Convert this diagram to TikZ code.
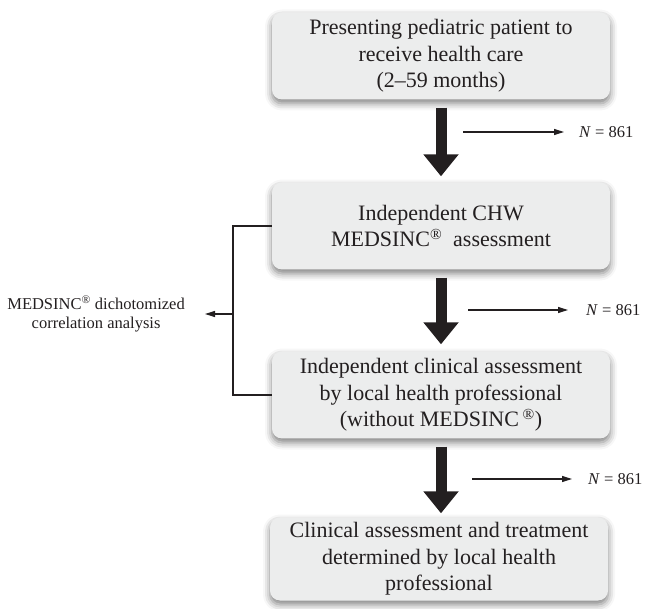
\documentclass[tikz,border=0pt]{standalone}
\usepackage{fontspec}
\setmainfont{Liberation Serif}
\usetikzlibrary{arrows.meta,shadows.blur}
\definecolor{boxgray}{RGB}{236,237,237}
\definecolor{ink}{RGB}{35,31,32}
\begin{document}
\begin{tikzpicture}[x=1pt,y=-1pt]
 \tikzset{stepbox/.style={fill=boxgray, rounded corners=10pt, minimum width=338pt, minimum height=87pt, align=center, text=ink, font=\fontsize{22}{26.5}\selectfont, blur shadow={shadow xshift=0pt, shadow yshift=-4pt, shadow blur radius=7pt, shadow opacity=50}}}
 \tikzset{bigarrow/.style={draw=ink, line width=11pt, -{Triangle[width=34pt,length=22pt]}}}
 \tikzset{directed/.style={draw=ink, line width=1.2pt, -{Triangle[width=6pt,length=10pt]}}}
 \tikzset{countlabel/.style={anchor=west, inner sep=0pt, text=ink, font=\fontsize{16.5}{19}\selectfont}}
  \useasboundingbox (0,0) rectangle (651,609);
  \node[stepbox] (B1) at (441,56) {Presenting pediatric patient to\\receive health care\\(2--59 months)};
  \node[stepbox] (B2) at (441,226) {Independent CHW\\MEDSINC\textsuperscript{\textregistered}\ \ assessment};
  \node[stepbox] (B3) at (441,395) {Independent clinical assessment\\by local health professional\\(without MEDSINC\,\textsuperscript{\textregistered})};
  \node[stepbox, minimum height=83pt] (B4) at (439,559) {Clinical assessment and treatment\\determined by local health\\professional};
  \node[countlabel] (C1) at (579,132) {\textit{N} = 861};
  \node[countlabel] (C2) at (586,310) {\textit{N} = 861};
  \node[countlabel] (C3) at (588,479) {\textit{N} = 861};
  \coordinate (P1) at (463,132);
  \coordinate (P2) at (468,310);
  \coordinate (P3) at (472,479);
  \coordinate (K) at (233,314);
  \node[align=center, inner sep=0pt, text=ink, font=\fontsize{16.5}{19.5}\selectfont, anchor=east] (A1) at (185,314) {MEDSINC\textsuperscript{\textregistered} dichotomized\\correlation analysis};
  \draw[bigarrow, shorten <=8pt, shorten >=6pt] (B1.south) -- (B1.south |- B2.north);
  \draw[bigarrow, shorten <=8pt, shorten >=7pt] (B2.south) -- (B2.south |- B3.north);
  \draw[bigarrow, shorten <=8pt, shorten >=4pt] (B3.south) -- (B3.south |- B4.north);
  \draw[directed, shorten >=15pt] (P1) -- (C1);
  \draw[directed, shorten >=18pt] (P2) -- (C2);
  \draw[directed, shorten >=16pt] (P3) -- (C3);
  \draw[draw=ink, line width=1.2pt] (B2.west) -- (K |- B2.west) -- (K |- B3.west) -- (B3.west);
  \draw[directed, shorten >=20pt] (K) -- (A1.east);
\end{tikzpicture}
\end{document}
